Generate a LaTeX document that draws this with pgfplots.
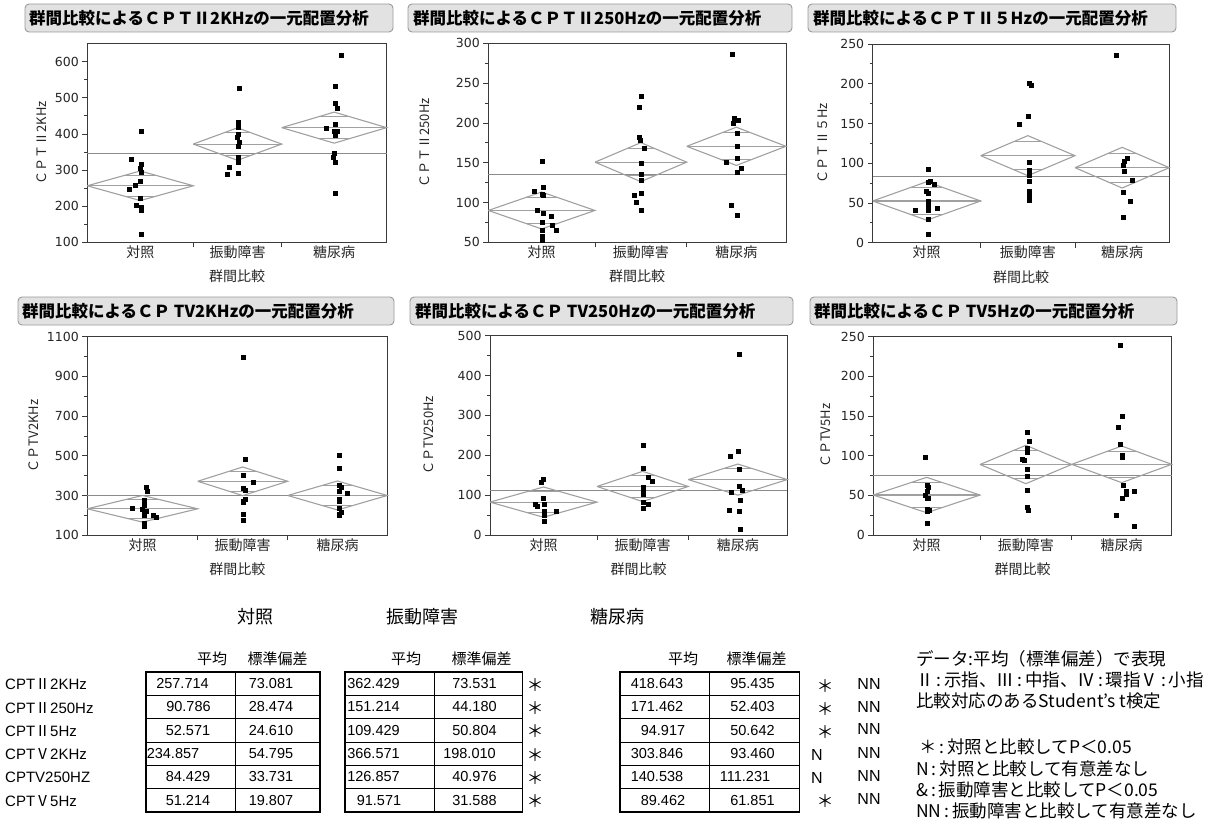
\documentclass[border=0pt]{standalone}
\usepackage{fontspec}
\usepackage{pgfplots}
\pgfplotsset{compat=1.18}
\setmainfont{DejaVu Sans}
\newfontfamily\jp{Noto Sans CJK JP}
\newfontfamily\arial{Liberation Sans}

\definecolor{diamondgray}{HTML}{A0A0A0}
\definecolor{meangray}{HTML}{8A8A8A}
\definecolor{framegray}{HTML}{3A3A3A}
\definecolor{titlefill}{HTML}{E2E2E2}
\definecolor{titleedge}{HTML}{9A9A9A}

\pgfplotsset{
  jmp/.style={
    scale only axis, anchor=south west, clip=false,
    axis line style={framegray, line width=0.9pt},
    tick align=outside, xtick pos=bottom, ytick pos=left,
    major tick length=5pt, minor tick length=3pt,
    tick style={framegray, line width=0.8pt},
    minor y tick num=1,
    yticklabel style={font=\fontsize{12.5}{14}\selectfont, text=black!85},
    /pgf/number format/assume math mode=true,
    /pgf/number format/1000 sep={},
    xticklabels={},
    extra x tick labels={対照,振動障害,糖尿病},
    extra x tick style={major tick length=0pt,
      xticklabel style={font=\jp\fontsize{14}{16}\selectfont, text=black!85}},
    xlabel={群間比較},
    xlabel style={font=\jp\fontsize{14}{16}\selectfont, text=black!85,
      at={(axis description cs:0.5,0)}, anchor=center, yshift=-34pt},
    ylabel style={font=\jp\fontsize{13}{15}\selectfont, text=black!85, anchor=center},
  },
  ci/.style={draw=diamondgray, line width=1.1pt, mark=none},
  grand/.style={draw=meangray, line width=1pt, mark=none},
  pts/.style={only marks, mark=square*, mark size=2pt, draw=black, fill=black,
    mark options={draw=black, fill=black}},
}

% mean diamond with overlap marks: left, right, mean, half-height of the 95% interval
\newcommand\ciDiamond[4]{%
  \pgfmathsetmacro\dC{(#1+#2)/2}%
  \pgfmathsetmacro\dT{#3+#4}%
  \pgfmathsetmacro\dB{#3-#4}%
  \pgfmathsetmacro\oU{#3+0.7071*#4}%
  \pgfmathsetmacro\oD{#3-0.7071*#4}%
  \pgfmathsetmacro\oL{\dC-0.2929*(#2-#1)/2}%
  \pgfmathsetmacro\oR{\dC+0.2929*(#2-#1)/2}%
  \addplot[ci] coordinates {(#1,#3) (\dC,\dT) (#2,#3) (\dC,\dB) (#1,#3)};
  \addplot[ci] coordinates {(#1,#3) (#2,#3)};
  \addplot[ci] coordinates {(\oL,\oU) (\oR,\oU)};
  \addplot[ci] coordinates {(\oL,\oD) (\oR,\oD)};
}
\newcommand\grandMean[3]{\addplot[grand] coordinates {(#1,#3) (#2,#3)};}

\newcommand\titletab[6]{%
  \draw[rounded corners=4pt, fill=titlefill, draw=titleedge, line width=0.9pt] (#1,#2) rectangle (#3,#4);
  \node[anchor=west, inner sep=0pt, font=\jp\bfseries\fontsize{16.5}{18}\selectfont] at (#5,{(#2+#4)/2}) {#6};}

% summary table frame: left edge, column divider, right edge
\newcommand\tablebox[3]{%
  \draw[line width=1.6pt] (#1,672) rectangle (#3,812);
  \draw[line width=1pt] (#2,672) -- (#2,812);
  \foreach \yy in {695.3,718.7,742,765.3,788.7} {\draw[line width=1pt] (#1,\yy) -- (#3,\yy);}}
\newcommand\cell[3]{\node[font=\arial\fontsize{14.5}{16}\selectfont] at (#1,#2) {#3};}
\newcommand\mk[3]{\node[font=\jp\fontsize{17}{18}\selectfont] at (#1,#2) {#3};}
\newcommand\nn[3]{\node[font=\arial\fontsize{16}{18}\selectfont] at (#1,#2) {#3};}

\begin{document}
\begin{tikzpicture}
\path[use as bounding box] (0,0) rectangle (1221pt,-832pt);

\begin{scope}[x=1pt,y=-1pt]
\titletab{25}{4}{393}{32}{29}{群間比較によるＣＰＴⅡ2KHzの一元配置分析}
\titletab{408}{4}{792}{32}{413}{群間比較によるＣＰＴⅡ250Hzの一元配置分析}
\titletab{808}{4}{1176}{32}{813}{群間比較によるＣＰＴⅡ５Hzの一元配置分析}
\titletab{18}{297}{394}{325}{22}{群間比較によるＣＰ TV2KHzの一元配置分析}
\titletab{410}{297}{793}{325}{415}{群間比較によるＣＰ TV250Hzの一元配置分析}
\titletab{810}{297}{1177}{325}{814}{群間比較によるＣＰ TV5Hzの一元配置分析}
\end{scope}

% ---------- CPT II 2KHz ----------
\begin{axis}[jmp, at={(87.3pt,-242.3pt)}, width=299.4pt, height=199pt,
  xmin=87.3, xmax=386.7, ymin=100, ymax=651,
  ytick={100,200,...,600}, xtick={193.3,281.7}, extra x ticks={140.3,237.5,334.2},
  ylabel={ＣＰＴⅡ2KHz}, ylabel style={at={(axis description cs:-0.152,0.5)}}]
\grandMean{87.3}{386.7}{346.5}
\ciDiamond{87.3}{193.3}{256.5}{41}
\ciDiamond{193.3}{281.7}{372}{45}
\ciDiamond{281.7}{386.7}{417.5}{43}
\addplot[pts] coordinates {(141,409.0) (131,330.6) (141,316.8) (140,303.9) (141,292.8)
  (140,267.9) (135,256.8) (129,247.6) (140,222.7) (136,201.5) (141,196.9) (141,187.6) (141,123.0)};
\addplot[pts] coordinates {(239.3,527.0) (237.7,433.0) (237.7,420.0) (237.7,398.0) (236.7,390.6)
  (239.3,377.7) (237.7,364.8) (237.7,337.0) (237.7,320.5) (228.7,306.6) (237.7,290.0) (227.0,287.3)};
\addplot[pts] coordinates {(340.7,619.4) (335,532.7) (335,485.6) (337,471.8) (335,427.5) (326,417.3)
  (337,409.0) (334,407) (335,395.2) (334.3,345.4) (332.7,334.3) (335,320.5) (335,234.7)};
\end{axis}

% ---------- CPT II 250Hz ----------
\begin{axis}[jmp, at={(488.3pt,-242.3pt)}, width=297.7pt, height=199pt,
  xmin=488.3, xmax=786, ymin=50, ymax=300,
  ytick={50,100,...,300}, xtick={595,686.7}, extra x ticks={541.7,640.9,736.4},
  ylabel={ＣＰＴⅡ250Hz}, ylabel style={at={(axis description cs:-0.215,0.5)}}]
\grandMean{488.3}{786}{135.8}
\ciDiamond{488.3}{595}{90}{23.2}
\ciDiamond{595}{686.7}{150.7}{24.5}
\ciDiamond{686.7}{786}{170.6}{24}
\addplot[pts] coordinates {(542,152.2) (543.3,119.5) (534,114.5) (542,109.9) (542.7,109.0)
  (537,89.8) (542.7,86.0) (551,82.2) (542,74.7) (552,71.8) (542,65.5) (556,64.7) (542,57.1)
  (542,53.8) (542,52.1)};
\addplot[pts] coordinates {(641,233.8) (639,220.0) (639,182.3) (640,177.7) (643.7,167.7)
  (641,149.7) (641,135.0) (641,128.3) (641,111.1) (634,108.6) (636,99.8) (641,89.8)};
\addplot[pts] coordinates {(732,286.6) (734,205.4) (737.7,202.8) (733,199.1) (736.7,187.4)
  (736.7,171.0) (736.7,155.9) (726,150.1) (740.7,143.4) (736.7,137.5) (731,96.1) (736.7,83.5)};
\end{axis}

% ---------- CPT II 5Hz ----------
\begin{axis}[jmp, at={(872.7pt,-242.7pt)}, width=296.6pt, height=198.7pt,
  xmin=872.7, xmax=1169.3, ymin=0, ymax=250,
  ytick={0,50,...,250}, xtick={980.7,1075}, extra x ticks={926.7,1027.9,1122.2},
  ylabel={ＣＰＴⅡ５Hz}, ylabel style={at={(axis description cs:-0.167,0.5)}}]
\grandMean{872.7}{1169.3}{83.5}
\ciDiamond{872.7}{980.7}{52.5}{24.2}
\ciDiamond{980.7}{1075}{109.5}{25.2}
\ciDiamond{1075}{1169.3}{94.4}{25.6}
\addplot[pts] coordinates {(927.7,92.7) (930,77.6) (927.7,75.5) (933.7,73.4) (926,64.2)
  (928.3,61.7) (927.7,51.6) (927.7,47.8) (937,44.0) (915,40.3) (927.7,40.3) (927.7,29.8) (927.7,10.5)};
\addplot[pts] coordinates {(1029,201.3) (1031,197.6) (1028,159.4) (1019,149.3) (1029,101.5)
  (1029,91.4) (1029,84.3) (1029,77.6) (1029,64.2) (1029,61.2) (1029,57.9) (1029,53.7)};
\addplot[pts] coordinates {(1116,236.2) (1126.7,106.5) (1124,102.3) (1122.7,97.7) (1124,90.2)
  (1131.7,78.9) (1122.7,63.3) (1130,51.6) (1122.7,32.3)};
\end{axis}

% ---------- CPT V 2KHz ----------
\begin{axis}[jmp, at={(87.3pt,-535.3pt)}, width=300pt, height=198.6pt,
  xmin=87.3, xmax=387.3, ymin=100, ymax=1100,
  ytick={100,300,...,1100}, xtick={197.7,287.7}, extra x ticks={142.5,242.7,337.5},
  ylabel={ＣＰTV2KHz}, ylabel style={at={(axis description cs:-0.18,0.5)}}]
\grandMean{87.3}{387.3}{299.7}
\ciDiamond{87.3}{197.7}{233.5}{67}
\ciDiamond{197.7}{287.7}{372}{72}
\ciDiamond{287.7}{387.3}{300.5}{73}
\addplot[pts] coordinates {(146,341.6) (146.7,319.8) (144,277.9) (144,252.7) (132,234.2)
  (142,230.9) (144,219.1) (146,222) (152.7,202.3) (144,202.3) (155.7,188.9) (144,160.4) (144,147.0)};
\addplot[pts] coordinates {(243,994.3) (245,484.2) (243,400.3) (252.7,365.1) (243,336.6)
  (245,328.2) (245,282.9) (243,272.8) (243,264.4) (243,207.4) (243,173.8)};
\addplot[pts] coordinates {(339,501.0) (339,438.9) (339,350.0) (341,339.9) (339,319.8)
  (346.7,309.7) (339,282.9) (339,269.5) (339,235.9) (341,215.8) (339,205.7) (339,200.7)};
\end{axis}

% ---------- CPT V 250Hz ----------
\begin{axis}[jmp, at={(490pt,-535pt)}, width=297.3pt, height=199.3pt,
  xmin=490, xmax=787.3, ymin=0, ymax=500,
  ytick={0,100,...,500}, xtick={597,688.3}, extra x ticks={543.5,642.7,737.8},
  ylabel={ＣＰTV250Hz}, ylabel style={at={(axis description cs:-0.2075,0.5)}}]
\grandMean{490}{787.3}{112.9}
\ciDiamond{490}{597}{82.5}{38}
\ciDiamond{597}{688.3}{121.8}{38}
\ciDiamond{688.3}{787.3}{139}{39}
\addplot[pts] coordinates {(541,132.2) (543.3,139.8) (543.3,92.4) (544,78) (535,76.3)
  (536.7,71.2) (556,59.3) (544,59.3) (544,53.4) (544,49.2) (544,34.7)};
\addplot[pts] coordinates {(642.7,224.6) (642.7,167) (647.7,144) (652,133.9) (642.7,120.3)
  (643.3,114.4) (643.3,108.5) (643.3,103.4) (642.7,83) (647.7,78) (642.7,67.8)};
\addplot[pts] coordinates {(739,454.8) (738.3,210.2) (729.7,196.6) (739,164.4) (739,121.2)
  (742,113.6) (730.7,108.5) (739.7,88.1) (728.7,62.7) (739,59.3) (739.7,14.4)};
\end{axis}

% ---------- CPT V 5Hz ----------
\begin{axis}[jmp, at={(873.3pt,-535pt)}, width=298.4pt, height=198.3pt,
  xmin=873.3, xmax=1171.7, ymin=0, ymax=250,
  ytick={0,50,...,250}, xtick={980,1071.7}, extra x ticks={926.7,1025.9,1121.7},
  ylabel={ＣＰTV5Hz}, ylabel style={at={(axis description cs:-0.16,0.5)}}]
\grandMean{873.3}{1171.7}{74.8}
\ciDiamond{873.3}{980}{50.4}{22.3}
\ciDiamond{980}{1071.7}{88.9}{24.2}
\ciDiamond{1071.7}{1171.7}{89.1}{23.1}
\addplot[pts] coordinates {(924.7,97.5) (927,62.6) (928.3,60.1) (927,55.0) (925.3,49.6)
  (928.3,46.6) (927,46.6) (927,32.4) (929.3,31.5) (927,29.4) (927,15.5)};
\addplot[pts] coordinates {(1027,129.0) (1029,118.5) (1027,110.0) (1027,104.2) (1022,95.4)
  (1024,93.7) (1027,83.2) (1027,74.4) (1027,56.7) (1027,35.3) (1028,31.9)};
\addplot[pts] coordinates {(1119.7,239.5) (1122,150.0) (1117.7,135.3) (1120,114.7) (1122,100.4)
  (1122,97.5) (1123,63.4) (1126,54.6) (1134,55.5) (1126,51.7) (1122,46.6) (1115.7,25.2) (1134,11.3)};
\end{axis}

% ---------- summary table ----------
\begin{scope}[x=1pt,y=-1pt]
\node[font=\jp\fontsize{18}{20}\selectfont] at (255,617) {対照};
\node[font=\jp\fontsize{18}{20}\selectfont] at (422.5,617) {振動障害};
\node[font=\jp\fontsize{18}{20}\selectfont] at (617.5,617) {糖尿病};

\begin{scope}[every node/.style={font=\jp\fontsize{15}{16}\selectfont}]
\node at (212,659) {平均};   \node at (277.5,659) {標準偏差};
\node at (406,659) {平均};   \node at (481.5,659) {標準偏差};
\node at (683,659) {平均};   \node at (756.5,659) {標準偏差};
\end{scope}

\begin{scope}[every node/.style={anchor=west, inner sep=0pt, font=\arial\fontsize{15}{16}\selectfont}]
\node at (5,684.5) {CPT{\jp Ⅱ}2KHz};
\node at (5,707.8) {CPT{\jp Ⅱ}250Hz};
\node at (5,731) {CPT{\jp Ⅱ}5Hz};
\node at (5,754.5) {CPT{\jp Ⅴ}2KHz};
\node at (5,777.8) {CPTV250HZ};
\node at (5,801) {CPT{\jp Ⅴ}5Hz};
\end{scope}

\tablebox{145.7}{235.7}{320}
\tablebox{345}{434.3}{522.3}
\tablebox{620}{709}{799.3}

\cell{182.5}{683.7}{257.714} \cell{271}{683.7}{73.081}
\cell{188.5}{707}{90.786}    \cell{271}{707}{28.474}
\cell{188}{730.3}{52.571}    \cell{271}{730.3}{24.610}
\cell{173}{753.7}{234.857}   \cell{271}{753.7}{54.795}
\cell{188}{777}{84.429}      \cell{271}{777}{33.731}
\cell{188}{800.3}{51.214}    \cell{271}{800.3}{19.807}

\cell{373.5}{683.7}{362.429} \cell{474.5}{683.7}{73.531}
\cell{373.5}{707}{151.214}   \cell{474.5}{707}{44.180}
\cell{373.5}{730.3}{109.429} \cell{474.5}{730.3}{50.804}
\cell{373.5}{753.7}{366.571} \cell{469.5}{753.7}{198.010}
\cell{373.5}{777}{126.857}   \cell{474.5}{777}{40.976}
\cell{379}{800.3}{91.571}    \cell{474.5}{800.3}{31.588}

\cell{657}{683.7}{418.643}   \cell{752.5}{683.7}{95.435}
\cell{657}{707}{171.462}     \cell{752.5}{707}{52.403}
\cell{663}{730.3}{94.917}    \cell{752.5}{730.3}{50.642}
\cell{657}{753.7}{303.846}   \cell{752.5}{753.7}{93.460}
\cell{657}{777}{140.538}     \cell{745}{777}{111.231}
\cell{663}{800.3}{89.462}    \cell{752.5}{800.3}{61.851}

\mk{535}{685}{＊} \mk{535}{708}{＊} \mk{535}{731.5}{＊}
\mk{535}{755}{＊} \mk{535}{778}{＊} \mk{535}{801.5}{＊}

\mk{825}{686}{＊} \mk{825}{709}{＊} \mk{825}{732}{＊}
\nn{817}{755}{N} \nn{817}{778}{N} \mk{825}{801.5}{＊}
\nn{869}{684}{NN} \nn{869}{707}{NN} \nn{869}{729}{NN}
\nn{869}{753}{NN} \nn{869}{776}{NN} \nn{869}{799}{NN}

\begin{scope}[every node/.style={anchor=west, inner sep=0pt, font=\jp\fontsize{17.5}{20}\selectfont}]
\node at (916,659) {データ:平均（標準偏差）で表現};
\node at (916,680) {Ⅱ\,:\,示指、Ⅲ\,:\,中指、Ⅳ\,:\,環指Ⅴ\,:\,小指};
\node at (916,701) {比較対応のあるStudent’s t検定};
\node at (919,747) {＊\,:\,対照と比較してP＜0.05};
\node at (916,769) {N\,:\,対照と比較して有意差なし};
\node at (916,790) {\&\,:\,振動障害と比較してP＜0.05};
\node at (916,811) {NN\,:\,振動障害と比較して有意差なし};
\end{scope}
\end{scope}
\end{tikzpicture}
\end{document}
